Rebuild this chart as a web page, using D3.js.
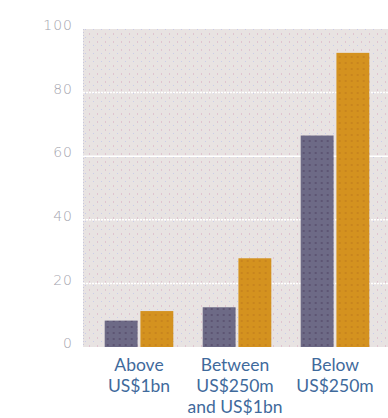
<!DOCTYPE html>
<html><head><meta charset="utf-8">
<script src="https://cdn.jsdelivr.net/npm/d3@7"></script>
<style>body{margin:0;background:#fff}svg{display:block}</style>
</head><body>
<script>
const categories = [["Above","US$1bn"],["Between","US$250m","and US$1bn"],["Below","US$250m"]];
const series = ["A","B"];
const valuesA = [8.3, 12.5, 66.5];
const valuesB = [11.3, 27.9, 92.5];
const yTicks = [0,20,40,60,80,100];

(function(){
const W=388,H=418;
const svg=d3.select("body").append("svg").attr("width",W).attr("height",H);
const defs=svg.append("defs");
const pat=defs.append("pattern").attr("id","bg").attr("width",8).attr("height",8).attr("patternUnits","userSpaceOnUse");
pat.append("rect").attr("width",8).attr("height",8).attr("fill","#e8e3e2");
pat.append("rect").attr("x",1).attr("y",1).attr("width",1).attr("height",2).attr("fill","#e0c4d0");
pat.append("rect").attr("x",5).attr("y",5).attr("width",1).attr("height",1).attr("fill","#c9cbea");
const pA=defs.append("pattern").attr("id","pa").attr("width",6).attr("height",6).attr("patternUnits","userSpaceOnUse");
pA.append("rect").attr("width",6).attr("height",6).attr("fill","#6d6a86");
pA.append("rect").attr("x",2).attr("y",2).attr("width",2).attr("height",2).attr("fill","#5d5573");
const pB=defs.append("pattern").attr("id","pb").attr("width",6).attr("height",6).attr("patternUnits","userSpaceOnUse");
pB.append("rect").attr("width",6).attr("height",6).attr("fill","#d4921f");
pB.append("rect").attr("x",2).attr("y",2).attr("width",2).attr("height",2).attr("fill","#c8851e");

const pl=83, pt=29, pb=347, pr=388;
const y=d3.scaleLinear().domain([0,100]).range([pb,pt]);
const x0=d3.scaleBand().domain(d3.range(categories.length)).range([90,384]).paddingInner(0.3).paddingOuter(0.15);
const x1=d3.scaleBand().domain(series).range([0,x0.bandwidth()]).paddingInner(0.08);

svg.append("rect").attr("x",pl).attr("y",pt).attr("width",pr-pl).attr("height",pb-pt).attr("fill","url(#bg)");
svg.append("line").attr("x1",pl+0.5).attr("x2",pl+0.5).attr("y1",pt).attr("y2",pb)
  .attr("stroke","#c8c8dc").attr("stroke-dasharray","1,2");

svg.append("g").selectAll("line").data(yTicks.filter(d=>d>0&&d<100)).join("line")
  .attr("x1",pl).attr("x2",pr).attr("y1",d=>y(d)).attr("y2",d=>y(d))
  .attr("stroke","#fff").attr("stroke-width",1.5)
  .attr("stroke-dasharray",d=>d===60?null:"2,1");

const ax=svg.append("g").attr("transform",`translate(73,0)`)
  .call(d3.axisLeft(y).tickValues(yTicks).tickSize(0).tickPadding(0));
ax.select(".domain").remove();
ax.selectAll("text").attr("fill","#a4a4ae").attr("font-family","DejaVu Sans").attr("font-size",14)
  .attr("font-weight",200).attr("letter-spacing",1).attr("dy","0.05em");

const g=svg.append("g").selectAll("g").data(categories.map((c,i)=>i)).join("g")
  .attr("transform",i=>`translate(${x0(i)},0)`);
g.append("rect").attr("x",x1("A")).attr("width",x1.bandwidth())
  .attr("y",i=>y(valuesA[i])).attr("height",i=>pb-y(valuesA[i])).attr("fill","url(#pa)");
g.append("rect").attr("x",x1("B")).attr("width",x1.bandwidth())
  .attr("y",i=>y(valuesB[i])).attr("height",i=>pb-y(valuesB[i])).attr("fill","url(#pb)");

const lab=svg.append("g").selectAll("text").data(categories.map((c,i)=>i)).join("text")
  .attr("x",i=>x0(i)+x0.bandwidth()/2 - (i===1?2:0)).attr("y",371)
  .attr("text-anchor","middle").attr("fill","#3f6a9c").attr("font-family","Lato").attr("font-size",17.5);
lab.selectAll("tspan").data(i=>categories[i]).join("tspan")
  .attr("x",function(){return this.parentNode.getAttribute("x");})
  .attr("dy",(d,j)=>j===0?0:21.2).text(d=>d);
})();
</script>
</body></html>
